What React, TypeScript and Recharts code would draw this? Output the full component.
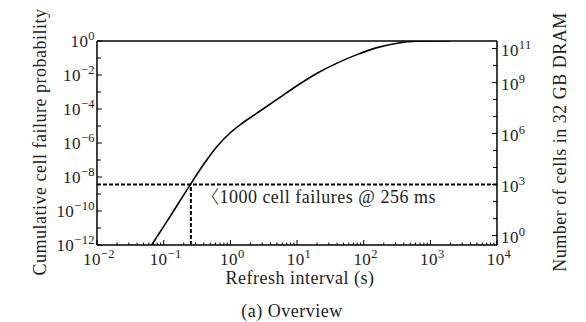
import React from 'react';
import { LineChart, Line, XAxis, YAxis, ReferenceLine, ReferenceDot } from 'recharts';

// Refresh interval (s) and cumulative cell failure probability
const intervals = [0.066, 0.126, 0.251, 0.398, 0.631, 1, 1.585, 2.51, 5.01, 10, 20, 39.8, 79.4, 158, 316, 631, 1259, 1950];
const failureProb = [1e-12, 5e-11, 3.55e-9, 5.6e-8, 6.3e-7, 4.0e-6, 1.66e-5, 5.75e-5, 3.7e-4, 2.34e-3, 0.0126, 0.05, 0.158, 0.407, 0.741, 0.96, 0.998, 1.0];

// Cells in 32 GB DRAM (2^38 bits)
const CELLS = 274877906944;
const THRESHOLD_CELLS = 1000;
const THRESHOLD_PROB = THRESHOLD_CELLS / CELLS;
const REFRESH_256MS = 0.256;

const xMajorExps = [-2, -1, 0, 1, 2, 3, 4];
const leftExps = [-12, -11, -10, -9, -8, -7, -6, -5, -4, -3, -2, -1, 0];
const leftLabelExps = [-12, -10, -8, -6, -4, -2, 0];
const rightExps = [0, 1, 2, 3, 4, 5, 6, 7, 8, 9, 10, 11];
const rightLabelExps = [0, 3, 6, 9, 11];

const annotationBracket = '〈';
const annotationText = '1000 cell failures @ 256 ms';
const xTitle = 'Refresh interval (s)';
const leftTitle = 'Cumulative cell failure probability';
const rightTitle = 'Number of cells in 32 GB DRAM';
const caption = '(a) Overview';

const data = intervals.map((t, i) => ({ t, p: failureProb[i] }));

const xTicks: number[] = [];
xMajorExps.forEach((e) => {
  xTicks.push(Math.pow(10, e));
  if (e < 4) for (let m = 2; m <= 9; m++) xTicks.push(m * Math.pow(10, e));
});
const leftTicks = leftExps.map((e) => Math.pow(10, e));
const rightTicks = rightExps.map((e) => Math.pow(10, e));

const FONT = '"Liberation Serif", "Times New Roman", serif';
const TXT = '#222';
const fmtExp = (e: number) => (e < 0 ? '\u2212' + Math.abs(e) : String(e));

const Pow = ({ x, y, exp, anchor }: any) => (
  <text x={x} y={y} textAnchor={anchor} fontFamily={FONT} fontSize={17} letterSpacing={0.4} fill={TXT}>
    10
    <tspan dy={-7} fontSize={12.5}>{fmtExp(exp)}</tspan>
  </text>
);

const XTick = (props: any) => {
  const { x, y, payload } = props;
  const lg = Math.log10(payload.value);
  const e = Math.round(lg);
  const major = Math.abs(lg - e) < 1e-6;
  return (
    <g>
      <line x1={x} x2={x} y1={y} y2={y - (major ? 5 : 2.5)} stroke="#000" strokeWidth={1} />
      {major && <Pow x={x + 2} y={y + 20} exp={e} anchor="middle" />}
    </g>
  );
};

const LeftTick = (props: any) => {
  const { x, y, payload } = props;
  const e = Math.round(Math.log10(payload.value));
  const labeled = leftLabelExps.includes(e);
  return (
    <g>
      <line x1={x} x2={x + (labeled ? 5 : 4)} y1={y} y2={y} stroke="#000" strokeWidth={1} />
      {labeled && <Pow x={x - 2} y={y + 6} exp={e} anchor="end" />}
    </g>
  );
};

const RightTick = (props: any) => {
  const { x, y, payload } = props;
  const e = Math.round(Math.log10(payload.value));
  const labeled = rightLabelExps.includes(e);
  return (
    <g>
      <line x1={x} x2={x - (labeled ? 5 : 4)} y1={y} y2={y} stroke="#000" strokeWidth={1} />
      {labeled && <Pow x={x + 4} y={y + 8} exp={e} anchor="start" />}
    </g>
  );
};

const XTitle = (props: any) => {
  const { viewBox } = props;
  return (
    <g>
      <text x={viewBox.x + viewBox.width / 2 + 3} y={viewBox.y + 39} textAnchor="middle" fontFamily={FONT} fontSize={18} letterSpacing={0.5} fill={TXT}>
        {xTitle}
      </text>
      <text x={292} y={viewBox.y + 72} textAnchor="middle" fontFamily={FONT} fontSize={18} letterSpacing={0.5} fill={TXT}>
        {caption}
      </text>
    </g>
  );
};

const LeftTitle = (props: any) => {
  const { viewBox } = props;
  const cx = viewBox.x + 9;
  const cy = viewBox.y + viewBox.height / 2 - 1;
  return (
    <text x={cx} y={cy} transform={`rotate(-90 ${cx} ${cy})`} textAnchor="middle" fontFamily={FONT} fontSize={18} letterSpacing={0.5} fill={TXT}>
      {leftTitle}
    </text>
  );
};

const RightTitle = (props: any) => {
  const { viewBox } = props;
  const cx = viewBox.x + 69;
  const cy = viewBox.y + viewBox.height / 2 - 1;
  return (
    <text x={cx} y={cy} transform={`rotate(-90 ${cx} ${cy})`} textAnchor="middle" fontFamily={FONT} fontSize={18} letterSpacing={0.5} fill={TXT}>
      {rightTitle}
    </text>
  );
};

const Annotation = (props: any) => {
  const { viewBox } = props;
  return (
    <text x={viewBox.x + 10} y={viewBox.y + 19} fontFamily={FONT} fontSize={18} letterSpacing={0.5} fill={TXT}>
      <tspan fontFamily='"Noto Sans CJK JP"' fontSize={18} fontWeight={300}>{annotationBracket}</tspan>
      <tspan>{annotationText}</tspan>
    </text>
  );
};

export default function App() {
  return (
    <div style={{ position: 'absolute', left: 0, top: 0, width: 586, height: 322, background: '#fff' }}>
      <LineChart width={586} height={322} data={data} margin={{ top: 41, right: 19, bottom: 47, left: 37 }}>
        <XAxis
          dataKey="t"
          type="number"
          scale="log"
          domain={[0.01, 10000]}
          allowDataOverflow
          ticks={xTicks}
          interval={0}
          tickSize={0}
          tickMargin={0}
          tickLine={false}
          tick={<XTick />}
          axisLine={{ stroke: '#000', strokeWidth: 1.5 }}
          height={30}
          label={<XTitle />}
        />
        <YAxis
          yAxisId="left"
          type="number"
          scale="log"
          domain={[1e-12, 1]}
          allowDataOverflow
          ticks={leftTicks}
          interval={0}
          tickSize={0}
          tickMargin={0}
          tickLine={false}
          tick={<LeftTick />}
          axisLine={{ stroke: '#000', strokeWidth: 1.5 }}
          width={60}
          label={<LeftTitle />}
        />
        <YAxis
          yAxisId="right"
          orientation="right"
          type="number"
          scale="log"
          domain={[CELLS * 1e-12, CELLS]}
          allowDataOverflow
          ticks={rightTicks}
          interval={0}
          tickSize={0}
          tickMargin={0}
          tickLine={false}
          tick={<RightTick />}
          axisLine={{ stroke: '#000', strokeWidth: 1.5 }}
          width={70}
          label={<RightTitle />}
        />
        <ReferenceLine yAxisId="left" y={1} stroke="#000" strokeWidth={1.5} />
        <ReferenceLine yAxisId="left" y={THRESHOLD_PROB} stroke="#000" strokeWidth={2} strokeDasharray="4 2" />
        <ReferenceLine
          yAxisId="left"
          segment={[
            { x: REFRESH_256MS, y: 1e-12 },
            { x: REFRESH_256MS, y: THRESHOLD_PROB },
          ]}
          stroke="#000"
          strokeWidth={2}
          strokeDasharray="4 2"
        />
        <Line
          yAxisId="left"
          dataKey="p"
          type="monotone"
          stroke="#000"
          strokeWidth={1.6}
          dot={false}
          activeDot={false}
          isAnimationActive={false}
        />
        <ReferenceDot yAxisId="left" x={REFRESH_256MS} y={THRESHOLD_PROB} r={0} fill="none" stroke="none" label={<Annotation />} />
      </LineChart>
    </div>
  );
}
